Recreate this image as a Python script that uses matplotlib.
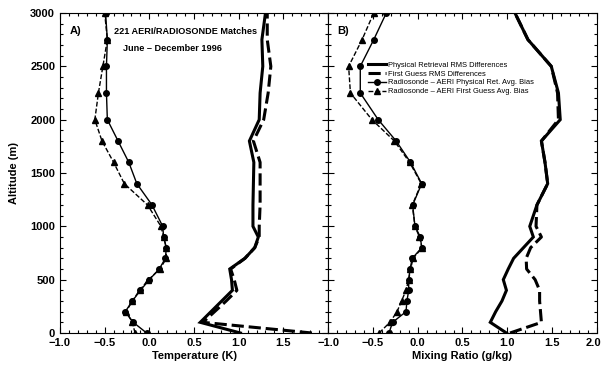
import numpy as np
import matplotlib
matplotlib.use('Agg')
import matplotlib.pyplot as plt
import matplotlib.transforms as mtransforms
from matplotlib.ticker import MultipleLocator

plt.rcParams['font.family'] = ['Liberation Sans', 'DejaVu Sans']

# --- data ---
alt = [0, 100, 200, 300, 400, 500, 600, 700, 800, 900, 1000,
       1200, 1400, 1600, 1800, 2000, 2250, 2500, 2750, 3000]

# A) temperature (K)
t_phys_rms = [1.02, 0.57, 0.69, 0.81, 0.93, 0.92, 0.90, 1.07, 1.18, 1.22, 1.16,
              1.16, 1.165, 1.17, 1.12, 1.23, 1.24, 1.27, 1.26, 1.30]
t_fg_rms = [1.82, 0.60, 0.73, 0.86, 0.98, 0.95, 0.91, 1.07, 1.18, 1.23, 1.23,
            1.24, 1.24, 1.24, 1.165, 1.28, 1.33, 1.36, 1.32, 1.32]
t_phys_bias = [-0.03, -0.18, -0.27, -0.19, -0.10, 0.0, 0.11, 0.18, 0.19, 0.16, 0.15,
               0.03, -0.14, -0.23, -0.35, -0.47, -0.48, -0.48, -0.47, -0.49]
t_fg_bias = [-0.16, -0.19, -0.26, -0.19, -0.11, -0.01, 0.12, 0.19, 0.19, 0.16, 0.13,
             -0.02, -0.28, -0.40, -0.53, -0.61, -0.57, -0.52, -0.47, -0.50]

# B) mixing ratio (g/kg)
q_phys_rms = [0.99, 0.81, 0.87, 0.94, 0.99, 0.955, 1.01, 1.07, 1.18, 1.29, 1.25,
              1.33, 1.45, 1.42, 1.38, 1.59, 1.57, 1.49, 1.23, 1.085]
q_fg_rms = [1.03, 1.38, 1.37, 1.36, 1.36, 1.31, 1.215, 1.21, 1.26, 1.38, 1.32,
            1.33, 1.45, 1.42, 1.38, 1.57, 1.56, 1.49, 1.23, 1.085]
q_phys_bias = [-0.32, -0.28, -0.13, -0.12, -0.10, -0.10, -0.085, -0.06, 0.045, 0.03, -0.03,
               -0.056, 0.045, -0.08, -0.24, -0.44, -0.64, -0.64, -0.49, -0.35]
q_fg_bias = [-0.43, -0.31, -0.23, -0.18, -0.13, -0.10, -0.08, -0.05, 0.05, 0.02, -0.03,
             -0.06, 0.04, -0.09, -0.26, -0.51, -0.75, -0.77, -0.62, -0.49]

labels = ['Physical Retrieval RMS Differences',
          'First Guess RMS Differences',
          'Radiosonde \u2013 AERI Physical Ret. Avg. Bias',
          'Radiosonde \u2013 AERI First Guess Avg. Bias']

fig = plt.figure(figsize=(6.02, 3.71), dpi=100)
ax1 = fig.add_axes([60 / 602, 38 / 371, 268 / 602, 320 / 371])
ax2 = fig.add_axes([328 / 602, 38 / 371, 269 / 602, 320 / 371])

dash_big = (0, (4, 1.6))
dash_small = (0, (3.5, 1.5))


def draw(ax, rms1, rms2, b1, b2):
    h1, = ax.plot(rms1, alt, color='black', lw=2.2, solid_joinstyle='miter')
    h2, = ax.plot(rms2, alt, color='black', lw=2.2, linestyle=dash_big)
    h3, = ax.plot(b1, alt, color='black', lw=1.0, marker='o', ms=4)
    h4, = ax.plot(b2, alt, color='black', lw=1.0, linestyle=dash_small,
                  marker='^', ms=4.5)
    ax.set_xlim(-1.0, 2.0)
    ax.set_ylim(0, 3000)
    ax.xaxis.set_major_locator(MultipleLocator(0.5))
    ax.xaxis.set_minor_locator(MultipleLocator(0.1))
    ax.yaxis.set_major_locator(MultipleLocator(500))
    ax.yaxis.set_minor_locator(MultipleLocator(100))
    ax.tick_params(which='both', direction='in', top=True, right=True,
                   labelsize=8, width=0.8)
    ax.tick_params(which='major', length=4)
    ax.tick_params(which='minor', length=2)
    for lab in ax.get_xticklabels() + ax.get_yticklabels():
        lab.set_fontweight('bold')
    for sp in ax.spines.values():
        sp.set_linewidth(0.8)
    return [h1, h2, h3, h4]


handles = draw(ax1, t_phys_rms, t_fg_rms, t_phys_bias, t_fg_bias)
draw(ax2, q_phys_rms, q_fg_rms, q_phys_bias, q_fg_bias)

ax1.set_xticks([-1.0, -0.5, 0.0, 0.5, 1.0, 1.5])
ax1.set_xticklabels(['\u22121.0', '\u22120.5', '0.0', '0.5', '1.0', '1.5'],
                    fontweight='bold')
ax2.set_xticks([-1.0, -0.5, 0.0, 0.5, 1.0, 1.5, 2.0])
ax2.set_xticklabels(['\u22121.0', '\u22120.5', '0.0', '0.5', '1.0', '1.5', '2.0'],
                    fontweight='bold')
ax2.set_yticklabels([])
# nudge the last label so it stays inside the canvas
last = ax2.get_xticklabels()[-1]
last.set_transform(last.get_transform() +
                   mtransforms.ScaledTranslation(-4 / 100, 0, fig.dpi_scale_trans))

ax1.set_xlabel('Temperature (K)', fontsize=8, fontweight='bold', labelpad=2)
ax2.set_xlabel('Mixing Ratio (g/kg)', fontsize=8, fontweight='bold', labelpad=2)
ax1.set_ylabel('Altitude (m)', fontsize=8, fontweight='bold', labelpad=8)

ax1.text(0.035, 0.935, 'A)', transform=ax1.transAxes, fontsize=8, fontweight='bold')
ax2.text(0.035, 0.935, 'B)', transform=ax2.transAxes, fontsize=8, fontweight='bold')
ax1.text(0.20, 0.935, '221 AERI/RADIOSONDE Matches', transform=ax1.transAxes,
         fontsize=6.6, fontweight='bold')
ax1.text(0.235, 0.88, 'June \u2013 December 1996', transform=ax1.transAxes,
         fontsize=6.6, fontweight='bold')

ax2.legend(handles, labels, loc='upper left', bbox_to_anchor=(0.13, 0.865),
           fontsize=5.4, frameon=False, handlelength=2.4, handletextpad=0.2,
           labelspacing=0.22, borderpad=0.2)

fig.savefig('out.png', dpi=100)
